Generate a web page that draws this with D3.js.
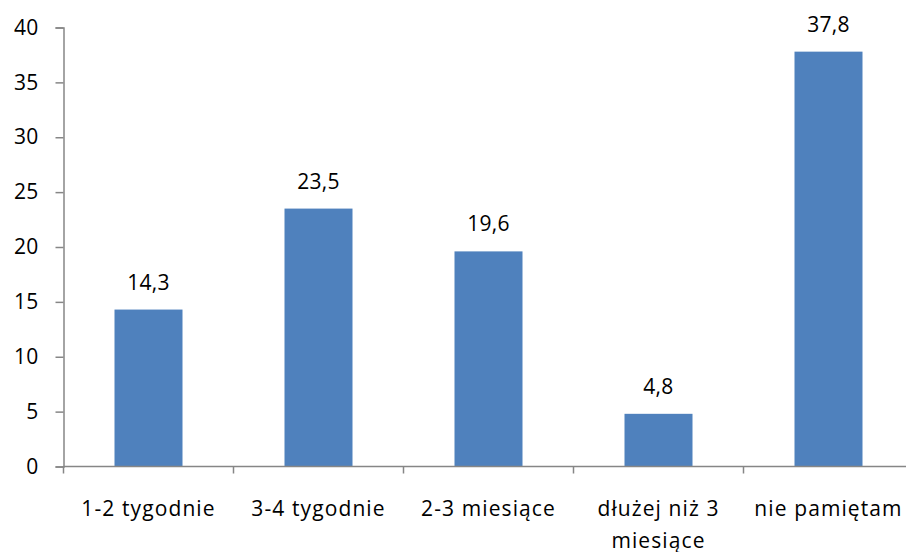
<!DOCTYPE html>
<html><head><meta charset="utf-8">
<script src="https://cdn.jsdelivr.net/npm/d3@7"></script>
<style>body{margin:0;background:#fff}svg text{font-family:"Open Sans",sans-serif;fill:#000}</style>
</head><body>
<svg id="c" width="906" height="552"></svg>
<script>
const categories = ["1-2 tygodnie","3-4 tygodnie","2-3 miesiące","dłużej niż 3 miesiące","nie pamiętam"];
const categoryLines = [["1-2 tygodnie"],["3-4 tygodnie"],["2-3 miesiące"],["dłużej niż 3","miesiące"],["nie pamiętam"]];
const values = [14.3,23.5,19.6,4.8,37.8];
const valueLabels = ["14,3","23,5","19,6","4,8","37,8"];
const yTicks = [0,5,10,15,20,25,30,35,40];

const svg = d3.select("#c");
const mLeft = 63.5, mRight = 913.5, mTop = 27.5, mBottom = 466.5;
const x = d3.scaleBand().domain(categories).range([mLeft, mRight]).paddingInner(0.6).paddingOuter(0.3);
const y = d3.scaleLinear().domain([0,40]).range([mBottom, mTop]);
const axisColor = "#868686";
const fs = "21px";

svg.selectAll("rect.bar").data(values).join("rect")
  .attr("class","bar")
  .attr("x",(d,i)=>x(categories[i]))
  .attr("width",x.bandwidth())
  .attr("y",d=>y(d))
  .attr("height",d=>y(0)-y(d))
  .attr("fill","#4F81BD");

// y axis
const ya = svg.append("g").attr("transform",`translate(${mLeft},0)`)
  .call(d3.axisLeft(y).tickValues(yTicks).tickSize(8).tickPadding(17).tickFormat(d3.format("d")));
ya.attr("font-size",null).attr("font-family",null);
ya.select(".domain").attr("stroke",axisColor).attr("stroke-width",1.5);
ya.selectAll(".tick line").attr("stroke",axisColor).attr("stroke-width",1.5);
ya.selectAll(".tick text").style("font-size",fs).style("letter-spacing","0.3px").attr("fill","#000");

// x axis
const xa = svg.append("g").attr("transform",`translate(0,${mBottom})`);
xa.append("line").attr("x1",mLeft).attr("x2",906).attr("y1",0).attr("y2",0).attr("stroke",axisColor).attr("stroke-width",1.5);
const step = x.step();
const boundaries = d3.range(categories.length+1).map(i=>x(categories[0]) - x.paddingOuter()*step + i*step);
xa.selectAll("line.t").data(boundaries).join("line").attr("class","t")
  .attr("x1",d=>d).attr("x2",d=>d).attr("y1",0).attr("y2",7)
  .attr("stroke",axisColor).attr("stroke-width",1.5);
const lbl = xa.selectAll("text.cat").data(categories).join("text").attr("class","cat")
  .attr("text-anchor","middle").style("font-size",fs).style("letter-spacing","1.1px")
  .attr("transform",d=>`translate(${x(d)+x.bandwidth()/2},0)`);
lbl.each(function(d,i){
  const t = d3.select(this);
  categoryLines[i].forEach((line,j)=>{
    t.append("tspan").attr("x",0).attr("y",49.5+j*31.5).text(line);
  });
});

// value labels
svg.selectAll("text.val").data(values).join("text").attr("class","val")
  .attr("text-anchor","middle").style("font-size",fs).style("letter-spacing","0.3px")
  .attr("x",(d,i)=>x(categories[i])+x.bandwidth()/2)
  .attr("y",d=>y(d)-20)
  .text((d,i)=>valueLabels[i]);
</script>
</body></html>
